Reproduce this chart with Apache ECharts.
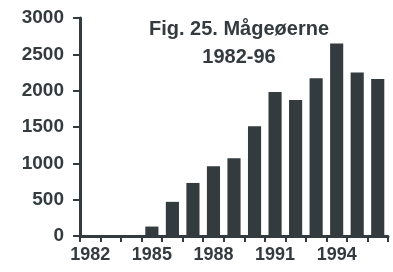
<!DOCTYPE html>
<html>
<head>
<meta charset="utf-8">
<script src="https://cdn.jsdelivr.net/npm/echarts@6/dist/echarts.min.js"></script>
<style>
  html, body { margin: 0; padding: 0; background: #fff; }
  #chart { width: 393px; height: 272px; }
</style>
</head>
<body>
<div id="chart"></div>
<script>
// 年份
const years = ['1982', '1983', '1984', '1985', '1986', '1987', '1988', '1989',
  '1990', '1991', '1992', '1993', '1994', '1995', '1996']
// 数量
const counts = [0, 0, 0, 130, 470, 730, 960, 1070, 1510, 1980, 1870, 2170, 2650, 2250, 2160]
// 只显示这些年份标签
const shownYears = ['1982', '1985', '1988', '1991', '1994']
const titleLines = ['Fig. 25. Mågeøerne', '1982-96']

const ink = '#343b3f'
const font = 'Liberation Sans'

const myChart = echarts.init(document.getElementById('chart'))
myChart.setOption({
  animation: false,
  title: {
    text: titleLines.join('\n'),
    left: 234,
    top: 10,
    textAlign: 'center',
    textStyle: {
      color: ink,
      fontFamily: font,
      fontWeight: 'bold',
      fontSize: 20,
      lineHeight: 28
    }
  },
  grid: { left: 80, right: 5, top: 18, bottom: 36 },
  xAxis: {
    type: 'category',
    data: years,
    axisLine: { show: true, lineStyle: { color: ink, width: 3 } },
    axisTick: { show: true, interval: 0, length: 6, lineStyle: { color: ink, width: 2 } },
    axisLabel: {
      interval: 0,
      color: ink,
      fontFamily: font,
      fontWeight: 'bold',
      fontSize: 18,
      margin: 10,
      formatter: (v) => (shownYears.includes(v) ? v : '')
    }
  },
  yAxis: [
    {
      // 只管标签
      type: 'value',
      min: 0,
      max: 3000,
      interval: 500,
      axisLine: { show: false },
      axisTick: { show: false },
      axisLabel: {
        color: ink,
        fontFamily: font,
        fontWeight: 'bold',
        fontSize: 19,
        margin: 16,
        formatter: (v) => String(v)
      },
      splitLine: { show: false }
    },
    {
      // 只管轴线和刻度
      type: 'value',
      position: 'left',
      offset: 0,
      min: 0,
      max: 3000,
      interval: 500,
      axisLine: { show: true, lineStyle: { color: ink, width: 3 } },
      axisTick: { show: true, length: 7, lineStyle: { color: ink, width: 2 } },
      axisLabel: { show: false },
      splitLine: { show: false }
    }
  ],
  series: [
    { type: 'bar', yAxisIndex: 0, data: counts, barCategoryGap: '36%', itemStyle: { color: ink } }
  ]
})
</script>
</body>
</html>
